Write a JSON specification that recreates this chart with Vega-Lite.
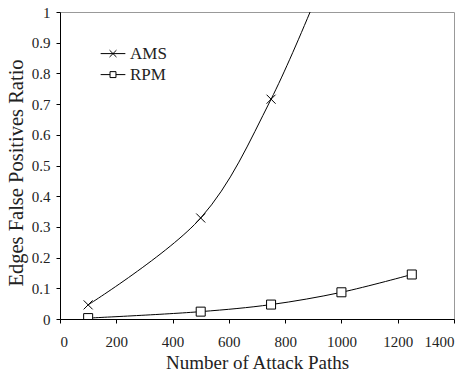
{
  "$schema": "https://vega.github.io/schema/vega-lite/v6.json",
  "width": 394,
  "height": 307,
  "autosize": {"type": "none"},
  "padding": {"left": 60, "top": 12, "right": 16, "bottom": 57},
  "config": {
    "font": "Liberation Serif",
    "view": {"stroke": "#999999", "strokeWidth": 1},
    "axis": {"grid": false, "domainColor": "black", "tickColor": "black", "labelColor": "#222", "titleColor": "#222", "labelFont": "Liberation Serif", "titleFont": "Liberation Serif", "titleFontWeight": "normal", "labelFontSize": 15}
  },
  "data": {
    "values": [
      {"paths": 100, "ratio": 0.046, "series": "AMS"},
      {"paths": 500, "ratio": 0.329, "series": "AMS"},
      {"paths": 750, "ratio": 0.716, "series": "AMS"},
      {"paths": 1000, "ratio": 1.25, "series": "AMS"},
      {"paths": 100, "ratio": 0.003, "series": "RPM"},
      {"paths": 500, "ratio": 0.024, "series": "RPM"},
      {"paths": 750, "ratio": 0.047, "series": "RPM"},
      {"paths": 1000, "ratio": 0.087, "series": "RPM"},
      {"paths": 1250, "ratio": 0.145, "series": "RPM"}
    ]
  },
  "encoding": {
    "x": {"field": "paths", "type": "quantitative", "title": "Number of Attack Paths",
      "scale": {"domain": [0, 1400], "nice": false},
      "axis": {"values": [0, 200, 400, 600, 800, 1000, 1200, 1400], "format": "d", "tickSize": 4, "labelPadding": 11, "titlePadding": 4, "titleFontSize": 19}},
    "y": {"field": "ratio", "type": "quantitative", "title": "Edges False Positives Ratio",
      "scale": {"domain": [0, 1], "nice": false},
      "axis": {"values": [0, 0.1, 0.2, 0.3, 0.4, 0.5, 0.6, 0.7, 0.8, 0.9, 1], "format": ".1~f", "tickSize": 4, "labelPadding": 6, "titlePadding": 5, "titleFontSize": 20.5, "titleY": 160.5}}
  },
  "layer": [
    {
      "mark": {"type": "line", "interpolate": "catmull-rom", "stroke": "black", "strokeWidth": 1, "clip": true},
      "encoding": {"detail": {"field": "series"}}
    },
    {
      "mark": {"type": "point", "filled": false, "stroke": "black", "strokeWidth": 1, "fill": "white", "fillOpacity": 1, "opacity": 1, "clip": true},
      "encoding": {
        "shape": {"field": "series", "type": "nominal",
          "scale": {"domain": ["AMS", "RPM"], "range": ["M-1,-1L1,1M-1,1L1,-1", "square"]},
          "legend": null
        },
        "size": {"value": 81}
      }
    },
    {
      "mark": {"type": "point", "filled": false, "stroke": "black", "strokeWidth": 1, "opacity": 0},
      "encoding": {
        "shape": {"field": "series", "type": "nominal",
          "scale": {"domain": ["AMS", "RPM"], "range": ["M-1,0L1,0M-0.28,-0.28L0.28,0.28M-0.28,0.28L0.28,-0.28", "M-1,0L-0.24,0M0.24,0L1,0M-0.24,-0.24L0.24,-0.24L0.24,0.24L-0.24,0.24Z"]},
          "legend": {
            "title": null, "orient": "none", "legendX": 40, "legendY": 28.6, "padding": 0,
            "symbolSize": 610, "labelFontSize": 17, "labelFont": "Liberation Serif", "labelColor": "#222",
            "labelOffset": 4, "rowPadding": -3.7, "symbolStrokeColor": "black", "symbolFillColor": "white", "symbolStrokeWidth": 1, "symbolOpacity": 1
          }
        }
      }
    }
  ],
  "resolve": {"scale": {"shape": "independent"}}
}
